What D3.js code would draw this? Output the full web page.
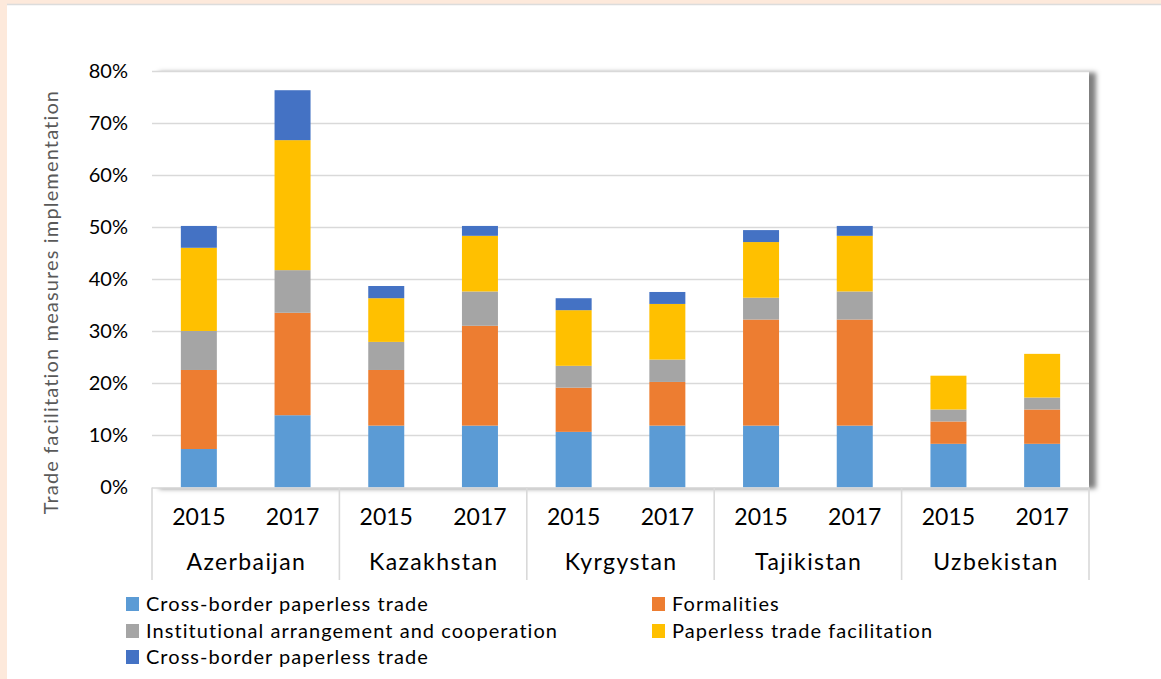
<!DOCTYPE html>
<html>
<head>
<meta charset="utf-8">
<script src="https://cdn.jsdelivr.net/npm/d3@7"></script>
<style>
  html, body { margin: 0; padding: 0; background: #ffffff; }
  svg { display: block; font-family: Lato, "Noto Sans", sans-serif; }
</style>
</head>
<body>
<svg id="chart" width="1161" height="679"></svg>
<script>
// ---- data ----
const countries = ["Azerbaijan", "Kazakhstan", "Kyrgystan", "Tajikistan", "Uzbekistan"];
const years = ["2015", "2017"];
const seriesNames = [
  "Cross-border paperless trade",
  "Formalities",
  "Institutional arrangement and cooperation",
  "Paperless trade facilitation",
  "Cross-border paperless trade"
];
const seriesColors = ["#5B9BD5", "#ED7D31", "#A5A5A5", "#FFC000", "#4472C4"];
// values per (country, year) in order: Az15, Az17, Kz15, Kz17, Kg15, Kg17, Tj15, Tj17, Uz15, Uz17
const crossBorderA   = [7.4, 13.9, 11.9, 11.9, 10.7, 11.9, 11.9, 11.9, 8.4, 8.4];
const formalities    = [15.2, 19.7, 10.7, 19.2, 8.5, 8.4, 20.4, 20.4, 4.3, 6.6];
const institutional  = [7.5, 8.2, 5.4, 6.6, 4.2, 4.3, 4.2, 5.4, 2.3, 2.3];
const paperless      = [16.0, 25.0, 8.4, 10.7, 10.7, 10.7, 10.7, 10.7, 6.5, 8.4];
const crossBorderB   = [4.2, 9.6, 2.35, 1.9, 2.3, 2.3, 2.3, 1.9, 0, 0];
const yTicks = [0, 10, 20, 30, 40, 50, 60, 70, 80];
const yTitle = "Trade facilitation measures implementation";

// ---- build rows ----
const seriesArrays = [crossBorderA, formalities, institutional, paperless, crossBorderB];
const keys = seriesArrays.map((_, i) => "s" + i);
const rows = [];
countries.forEach((c, ci) => years.forEach((y, yi) => {
  const r = { country: c, year: y, idx: ci * years.length + yi };
  keys.forEach((k, si) => r[k] = seriesArrays[si][r.idx]);
  rows.push(r);
}));

const svg = d3.select("#chart");
const W = 1161, H = 679;

// frame
svg.append("rect").attr("x", 0).attr("y", 0).attr("width", W).attr("height", H).attr("fill", "#FDE9DB");
svg.append("rect").attr("x", 7).attr("y", 5).attr("width", W - 7).attr("height", H - 5).attr("fill", "#ffffff");
svg.append("line").attr("x1", 7).attr("x2", W).attr("y1", 4.5).attr("y2", 4.5).attr("stroke", "#dcdcdc").attr("stroke-width", 1.5);

const plot = { left: 152, right: 1089, top: 71.5, bottom: 487.5 };

const defs = svg.append("defs");
const f = defs.append("filter").attr("id", "shadow").attr("x", "-5%").attr("y", "-10%").attr("width", "115%").attr("height", "125%");
f.append("feDropShadow").attr("dx", 7).attr("dy", 1).attr("stdDeviation", 2.5)
  .attr("flood-color", "#000").attr("flood-opacity", 0.5);

svg.append("rect")
  .attr("x", plot.left).attr("y", plot.top)
  .attr("width", plot.right - plot.left).attr("height", plot.bottom - plot.top)
  .attr("fill", "#ffffff").attr("filter", "url(#shadow)");

// scales
const xGroup = d3.scaleBand().domain(countries).range([plot.left, plot.right]).padding(0);
const xYear = d3.scaleBand().domain(years).range([0, xGroup.bandwidth()]).padding(0);
const y = d3.scaleLinear().domain([0, 80]).range([plot.bottom, plot.top]);
const barW = 36;

// gridlines
svg.append("g").selectAll("line").data(yTicks.filter(d => d > 0)).join("line")
  .attr("x1", plot.left).attr("x2", plot.right)
  .attr("y1", d => y(d)).attr("y2", d => y(d))
  .attr("stroke", "#d9d9d9").attr("stroke-width", 1.6);

// y axis labels
const yAxis = d3.axisLeft(y).tickValues(yTicks).tickFormat(d => d + "%").tickSize(0).tickPadding(0);
const yg = svg.append("g").attr("transform", `translate(${plot.left - 24},0)`).call(yAxis);
yg.select(".domain").remove();
yg.selectAll("text").attr("font-size", 20).attr("fill", "#000").attr("font-family", "Lato, sans-serif");

// y title
svg.append("text")
  .attr("transform", `translate(58,${302}) rotate(-90)`)
  .attr("text-anchor", "middle").attr("font-size", 20).attr("fill", "#595959")
  .attr("letter-spacing", 1.15)
  .text(yTitle);

// bars
const stack = d3.stack().keys(keys);
const stacked = stack(rows);
svg.append("g").selectAll("g").data(stacked).join("g")
  .attr("fill", (d, i) => seriesColors[i])
  .selectAll("rect").data(d => d).join("rect")
  .attr("x", d => xGroup(d.data.country) + xYear(d.data.year) + xYear.bandwidth() / 2 - barW / 2)
  .attr("width", barW)
  .attr("y", d => y(d[1]))
  .attr("height", d => Math.max(0, y(d[0]) - y(d[1])));

// category axis
const axisG = svg.append("g");
axisG.append("line").attr("x1", plot.left).attr("x2", plot.right)
  .attr("y1", plot.bottom + 0.5).attr("y2", plot.bottom + 0.5)
  .attr("stroke", "#d9d9d9").attr("stroke-width", 1.6);
const seps = countries.map(c => xGroup(c)).concat([plot.right]);
axisG.selectAll("line.sep").data(seps).join("line").attr("class", "sep")
  .attr("x1", d => d).attr("x2", d => d)
  .attr("y1", plot.bottom).attr("y2", 580)
  .attr("stroke", "#d9d9d9").attr("stroke-width", 1.6);

axisG.selectAll("text.year").data(rows).join("text").attr("class", "year")
  .attr("x", d => xGroup(d.country) + xYear(d.year) + xYear.bandwidth() / 2)
  .attr("y", 525)
  .attr("text-anchor", "middle").attr("font-size", 23).attr("fill", "#000")
  .text(d => d.year);

axisG.selectAll("text.country").data(countries).join("text").attr("class", "country")
  .attr("x", d => xGroup(d) + xGroup.bandwidth() / 2 + 0.7)
  .attr("y", 570)
  .attr("text-anchor", "middle").attr("font-size", 23).attr("fill", "#000")
  .attr("letter-spacing", 1.4)
  .text(d => d);

// legend
const legendPos = [
  { x: 126, y: 604 }, { x: 652, y: 604 },
  { x: 126, y: 631 }, { x: 652, y: 631 },
  { x: 126, y: 657 }
];
const lg = svg.append("g").selectAll("g").data(seriesNames).join("g")
  .attr("transform", (d, i) => `translate(${legendPos[i].x},${legendPos[i].y})`);
lg.append("rect").attr("x", 0).attr("y", -7).attr("width", 13).attr("height", 14)
  .attr("fill", (d, i) => seriesColors[i]);
lg.append("text").attr("x", 20).attr("y", 7).attr("font-size", 20).attr("fill", "#000")
  .attr("letter-spacing", 1.05)
  .text(d => d);
</script>
</body>
</html>
